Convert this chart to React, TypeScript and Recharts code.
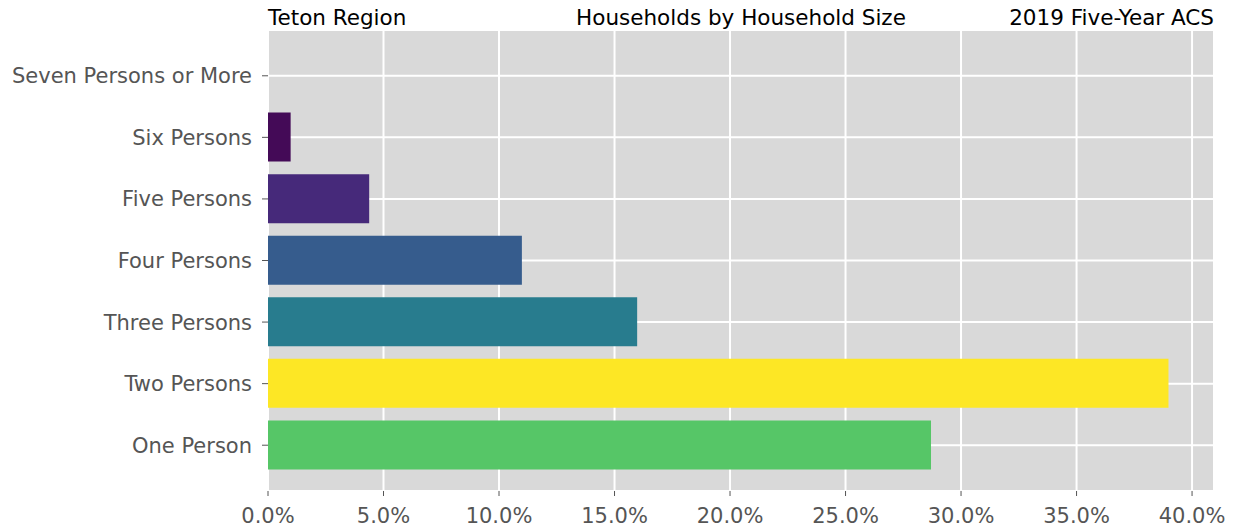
import { Bar, BarChart, CartesianGrid, Cell, XAxis, YAxis } from "recharts"

const categories = [
    "Seven Persons or More",
    "Six Persons",
    "Five Persons",
    "Four Persons",
    "Three Persons",
    "Two Persons",
    "One Person",
]
const shares = [0, 0.98, 4.38, 10.99, 15.98, 38.98, 28.7]
const barColors = ["#440154", "#440a57", "#46297a", "#365c8d", "#287c8e", "#fde725", "#56c667"]
const xTicks = [0, 5, 10, 15, 20, 25, 30, 35, 40]

const data = categories.map((name, i) => ({ name, value: shares[i] }))

const font = "'DejaVu Sans', sans-serif"

export default function App() {
    return (
        <div style={{ position: "absolute", left: 0, top: 0, width: 1237, height: 529, background: "#fff" }}>
            <BarChart
                width={1237}
                height={529}
                data={data}
                layout="vertical"
                margin={{ top: 30, right: 23, bottom: 0, left: 0 }}
            >
                <CartesianGrid fill="#d9d9d9" stroke="#ffffff" strokeWidth={2} />
                <XAxis
                    type="number"
                    domain={[0, 40.95]}
                    ticks={xTicks}
                    allowDataOverflow
                    tickFormatter={(v: number) => `${v.toFixed(1)}%`}
                    axisLine={false}
                    tickLine={{ stroke: "#555" }}
                    tickSize={5}
                    tickMargin={12}
                    height={38}
                    tick={{ fill: "#555", fontSize: 21, fontFamily: font }}
                />
                <YAxis
                    type="category"
                    dataKey="name"
                    width={268}
                    axisLine={false}
                    tickLine={{ stroke: "#555" }}
                    tickSize={6}
                    tickMargin={10}
                    padding={{ top: 15, bottom: 15 }}
                    tick={{ fill: "#555", fontSize: 21, fontFamily: font }}
                />
                <Bar dataKey="value" barSize={49} isAnimationActive={false}>
                    {data.map((d, i) => (
                        <Cell key={d.name} fill={barColors[i]} />
                    ))}
                </Bar>
            </BarChart>
            <svg
                width={1237}
                height={529}
                style={{ position: "absolute", left: 0, top: 0, pointerEvents: "none" }}
            >
                <text x={268} y={25} fontSize={21.5} fontFamily={font} fill="#000">Teton Region</text>
                <text x={741} y={25} fontSize={21.5} fontFamily={font} fill="#000" textAnchor="middle">
                    Households by Household Size
                </text>
                <text x={1214} y={25} fontSize={21.5} fontFamily={font} fill="#000" textAnchor="end">
                    2019 Five-Year ACS
                </text>
            </svg>
        </div>
    )
}
